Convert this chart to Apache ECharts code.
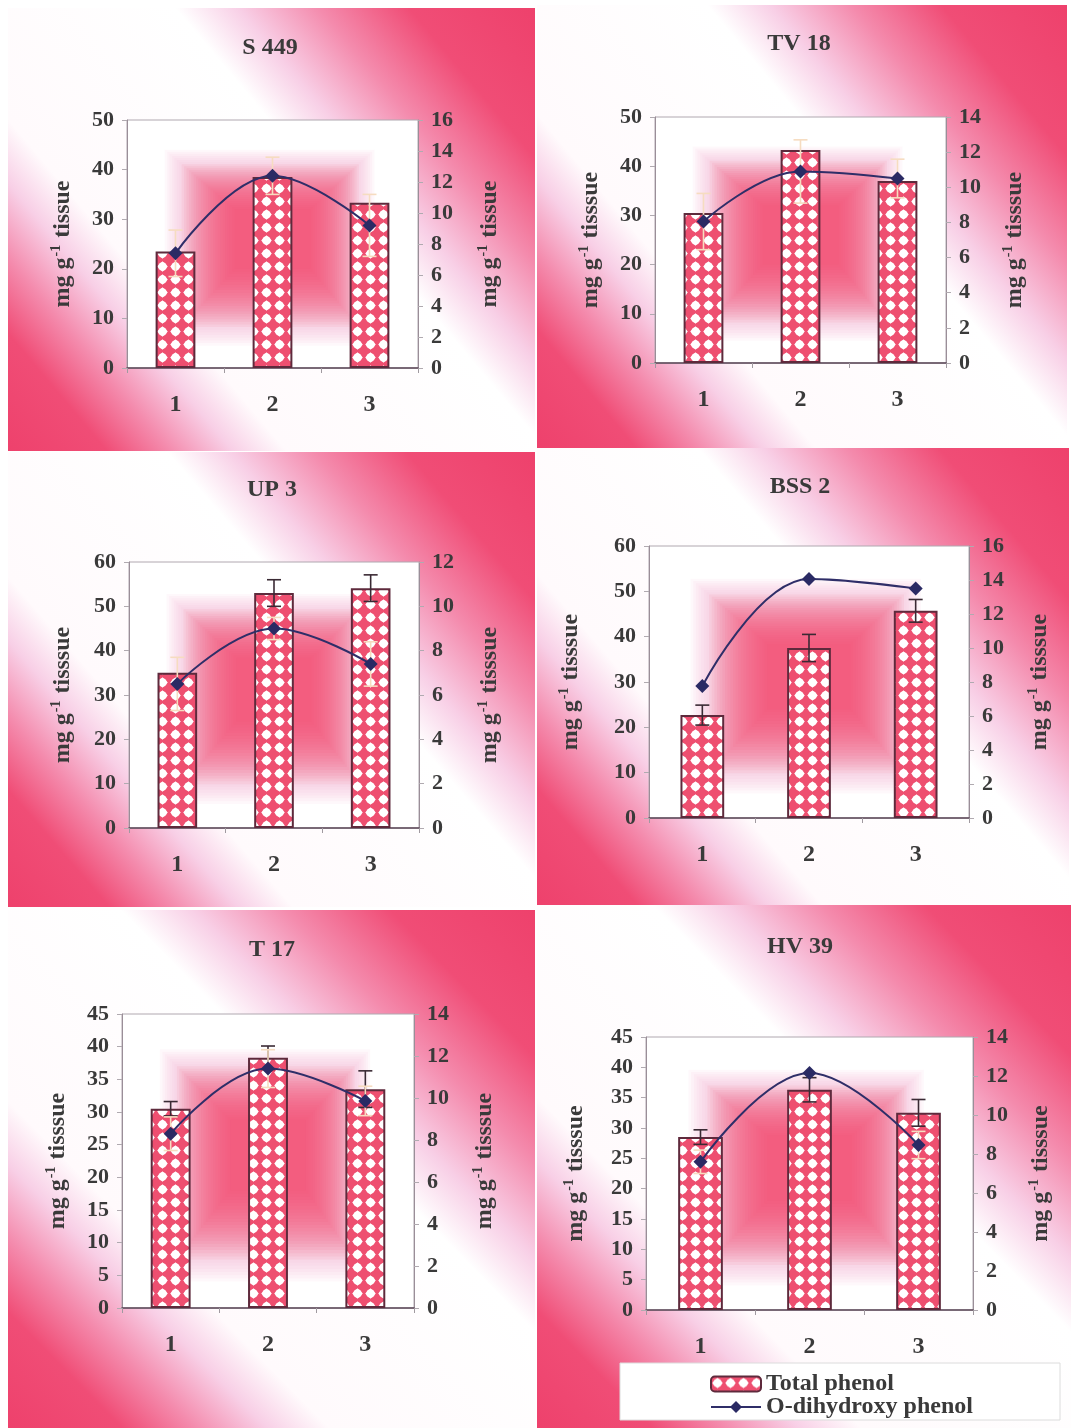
<!DOCTYPE html>
<html><head><meta charset="utf-8">
<script src="https://cdn.jsdelivr.net/npm/echarts@6/dist/echarts.min.js"></script>
<style>html,body{margin:0;padding:0;background:#fff}#c{width:1071px;height:1428px}</style>
</head><body><div id="c"></div>
<script>
// ---------- data ----------
const categories = ['1', '2', '3'];
const titles = ['S 449', 'TV 18', 'UP 3', 'BSS 2', 'T 17', 'HV 39'];
const totalPhenol = [
  [23.5, 38.5, 33.3],
  [30.5, 43.3, 37.0],
  [35.0, 53.0, 54.1],
  [22.7, 37.5, 45.7],
  [30.5, 38.3, 33.5],
  [28.5, 36.3, 32.5]
];
const totalPhenolErr = [
  [0, 0, 0],
  [0, 0, 0],
  [0, 3.0, 3.0],
  [2.2, 3.0, 2.5],
  [1.1, 1.8, 2.8],
  [1.2, 2.0, 2.2]
];
const odPhenol = [
  [7.4, 12.4, 9.2],
  [8.05, 10.9, 10.5],
  [6.5, 9.0, 7.4],
  [7.76, 14.06, 13.5],
  [8.3, 11.4, 9.86],
  [7.6, 12.15, 8.46]
];
const odPhenolErr = [
  [1.5, 1.2, 2.0],
  [1.6, 1.8, 1.1],
  [1.2, 0.5, 1.0],
  [0, 0, 0],
  [0.8, 0.9, 0.7],
  [0.6, 0, 0.7]
];
const leftMax = [50, 50, 60, 60, 45, 45];
const leftInterval = [10, 10, 10, 10, 5, 5];
const rightMax = [16, 14, 12, 16, 14, 14];
const rightInterval = [2, 2, 2, 2, 2, 2];
const leftUnit = ['tissue', 'tisssue', 'tisssue', 'tisssue', 'tisssue', 'tisssue'];
const rightUnit = ['tissue', 'tisssue', 'tisssue', 'tisssue', 'tisssue', 'tisssue'];
const seriesNames = ['Total phenol', 'O-dihydroxy phenol'];

// ---------- layout / style ----------
const panels = [[8,8,527,443],[537,5,530,443],[8,452,527,455],[537,448,532,459],[8,910,527,518],[537,905,534,523]];
const grids = [[127,120,291,248],[655,117,291,246],[129,562,290,266],[649,546,320,272],[122,1014,292,294],[646,1037,327,273]];
const titlePos = [[270,48],[799,44],[272,490],[800,487],[272,950],[800,947]];
const leftGap = [51,51,53,65,51,57];
const rightGap = [58,55,57,57,57,54];
const barErrColor = ['#f3dcc4','#f3dcc4','#3a2a34','#3a2a34','#3a2a34','#3a2a34'];
const FONT = '"Liberation Serif", "Times New Roman", serif';
const TXT = '#3a3a3a';

function makePattern() {
  const c = document.createElement('canvas');
  c.width = 13; c.height = 13;
  const g = c.getContext('2d');
  g.fillStyle = '#ee4f70'; g.fillRect(0, 0, 13, 13);
  g.fillStyle = '#ffffff';
  g.beginPath(); g.moveTo(6.5, 1.2); g.lineTo(11.8, 6.5); g.lineTo(6.5, 11.8); g.lineTo(1.2, 6.5); g.closePath(); g.fill();
  g.beginPath(); g.arc(6.5, 6.5, 4.3, 0, Math.PI * 2); g.fill();
  return c;
}
const pattern = { image: makePattern(), repeat: 'repeat' };

function errRender(color, capW) {
  return function (params, api) {
    const x = api.value(0), y = api.value(1), e = api.value(2);
    if (!e) return null;
    const t = api.coord([x, y + e]), b = api.coord([x, y - e]);
    const hw = capW / 2, st = { stroke: color, lineWidth: 1.6 };
    return { type: 'group', children: [
      { type: 'line', shape: { x1: t[0], y1: t[1], x2: b[0], y2: b[1] }, style: st },
      { type: 'line', shape: { x1: t[0] - hw, y1: t[1], x2: t[0] + hw, y2: t[1] }, style: st },
      { type: 'line', shape: { x1: b[0] - hw, y1: b[1], x2: b[0] + hw, y2: b[1] }, style: st }
    ]};
  };
}

function nameRich(unit) {
  return '{n|mg g}{s|-1}{n| ' + unit + '}';
}
const richName = {
  n: { fontFamily: FONT, fontWeight: 'bold', fontSize: 24, color: TXT },
  s: { fontFamily: FONT, fontWeight: 'bold', fontSize: 14, color: TXT, padding: [0, 1, 13, 1] }
};

const graphic = [];
const grid = [], xAxis = [], yAxis = [], series = [];

// soft rectangular "from centre" fill inside the plot area
function softSquare(g) {
  const out = [0.13, 0.12, 0.85, 0.91];   // x0,y0,x1,y1 (fractions)
  const inn = [0.37, 0.36, 0.63, 0.6];
  const N = 30;
  const els = [];
  for (let k = 0; k < N; k++) {
    const t = k / (N - 1);
    const x0 = out[0] + (inn[0] - out[0]) * t, y0 = out[1] + (inn[1] - out[1]) * t;
    const x1 = out[2] + (inn[2] - out[2]) * t, y1 = out[3] + (inn[3] - out[3]) * t;
    els.push({
      type: 'rect', z: -28 + k * 0.01, silent: true,
      shape: { x: g[0] + g[2] * x0, y: g[1] + g[3] * y0, width: g[2] * (x1 - x0), height: g[3] * (y1 - y0) },
      style: { fill: k < 7 ? 'rgba(245,175,210,0.09)' : 'rgba(238,76,114,0.08)' }
    });
  }
  return els;
}

panels.forEach((p, i) => {
  graphic.push({
    type: 'rect', z: -30, silent: true,
    shape: { x: p[0], y: p[1], width: p[2], height: p[3] },
    style: { fill: new echarts.graphic.LinearGradient(0, 1, 1, 0, [
      { offset: 0, color: '#ee416c' },
      { offset: 0.11, color: '#f04d76' },
      { offset: 0.18, color: '#f48bad' },
      { offset: 0.25, color: '#f8cfe6' },
      { offset: 0.31, color: '#fffafc' },
      { offset: 0.6, color: '#ffffff' },
      { offset: 0.67, color: '#f8cfe6' },
      { offset: 0.76, color: '#f48bad' },
      { offset: 0.86, color: '#f04d76' },
      { offset: 1, color: '#ee416c' }
    ]) }
  });
  const g = grids[i];
  graphic.push({
    type: 'rect', z: -29, silent: true,
    shape: { x: g[0], y: g[1], width: g[2], height: g[3] },
    style: { fill: '#ffffff' }
  });
  softSquare(g).forEach(e => graphic.push(e));
  graphic.push({
    type: 'text', z: 10, silent: true,
    x: titlePos[i][0], y: titlePos[i][1],
    style: { text: titles[i], fontFamily: FONT, fontWeight: 'bold', fontSize: 24, fill: TXT, align: 'center', verticalAlign: 'middle' }
  });

  grid.push({ left: g[0], top: g[1], width: g[2], height: g[3], show: true, borderColor: '#b0a8b0', borderWidth: 1, backgroundColor: 'transparent', containLabel: false });
  xAxis.push({
    type: 'category', gridIndex: i, data: categories,
    axisLine: { lineStyle: { color: '#5a4656', width: 1.5 } },
    axisTick: { show: true, length: 5, lineStyle: { color: '#a09aa0' } },
    axisLabel: { fontFamily: FONT, fontWeight: 'bold', fontSize: 24, color: TXT, margin: 25 },
    splitLine: { show: false }
  });
  yAxis.push({
    type: 'value', gridIndex: i, min: 0, max: leftMax[i], interval: leftInterval[i], position: 'left',
    name: nameRich(leftUnit[i]), nameLocation: 'middle', nameRotate: 90, nameGap: leftGap[i],
    nameTextStyle: { rich: richName },
    axisLine: { show: true, lineStyle: { color: '#9a8e98', width: 1 } },
    axisTick: { show: true, length: 5, lineStyle: { color: '#b0aab0' } },
    axisLabel: { fontFamily: FONT, fontWeight: 'bold', fontSize: 22, color: TXT, margin: 13 },
    splitLine: { show: false }
  });
  yAxis.push({
    type: 'value', gridIndex: i, min: 0, max: rightMax[i], interval: rightInterval[i], position: 'right',
    name: nameRich(rightUnit[i]), nameLocation: 'middle', nameRotate: 90, nameGap: rightGap[i],
    nameTextStyle: { rich: richName },
    axisLine: { show: true, lineStyle: { color: '#9a8e98', width: 1 } },
    axisTick: { show: true, length: 5, lineStyle: { color: '#b0aab0' } },
    axisLabel: { fontFamily: FONT, fontWeight: 'bold', fontSize: 22, color: TXT, margin: 13 },
    splitLine: { show: false }
  });

  series.push({
    name: seriesNames[0], type: 'bar', xAxisIndex: i, yAxisIndex: i * 2,
    data: totalPhenol[i], barWidth: '41%', z: 2,
    itemStyle: { color: pattern, borderColor: '#5e2a3c', borderWidth: 2 }
  });
  series.push({
    type: 'custom', xAxisIndex: i, yAxisIndex: i * 2, z: 3, silent: true,
    renderItem: errRender(barErrColor[i], 14),
    encode: { x: 0, y: 1 },
    data: totalPhenol[i].map((v, k) => [k, v, totalPhenolErr[i][k]])
  });
  series.push({
    type: 'custom', xAxisIndex: i, yAxisIndex: i * 2 + 1, z: 3, silent: true,
    renderItem: errRender('#f6dcc0', 14),
    encode: { x: 0, y: 1 },
    data: odPhenol[i].map((v, k) => [k, v, odPhenolErr[i][k]])
  });
  series.push({
    name: seriesNames[1], type: 'line', xAxisIndex: i, yAxisIndex: i * 2 + 1,
    data: odPhenol[i], smooth: 0.4, z: 4,
    symbol: 'diamond', symbolSize: 14,
    lineStyle: { color: '#2f2e68', width: 2 },
    itemStyle: { color: '#2a2a64' }
  });
});

graphic.push({
  type: 'rect', z: 5, silent: true,
  shape: { x: 620, y: 1363, width: 440, height: 57 },
  style: { fill: '#ffffff', stroke: '#dcdcdc', lineWidth: 1 }
});

const legendText = { fontFamily: FONT, fontWeight: 'bold', fontSize: 24, color: TXT };
const option = {
  animation: false,
  backgroundColor: '#ffffff',
  graphic: graphic,
  grid: grid, xAxis: xAxis, yAxis: yAxis, series: series,
  legend: [
    { data: [seriesNames[0]], left: 710, top: 1372, z: 20, padding: 0,
      itemWidth: 50, itemHeight: 15, textStyle: legendText },
    { data: [seriesNames[1]], left: 710, top: 1395, z: 20, padding: 0,
      itemWidth: 50, itemHeight: 15, textStyle: legendText }
  ]
};
const chart = echarts.init(document.getElementById('c'), null, { renderer: 'canvas' });
chart.setOption(option);
</script></body></html>
